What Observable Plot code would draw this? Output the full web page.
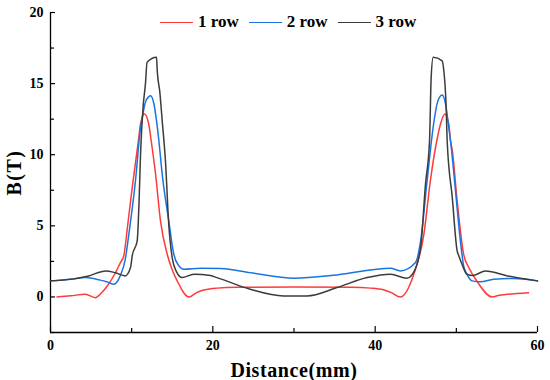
<!DOCTYPE html>
<html><head><meta charset="utf-8">
<script src="https://cdn.jsdelivr.net/npm/d3@7"></script>
<script src="https://cdn.jsdelivr.net/npm/@observablehq/plot@0.6"></script>
<style>
body{margin:0;background:#fff;}
#wrap{position:relative;width:550px;height:380px;font-family:"Liberation Serif","Times New Roman",serif;}
#legend{position:absolute;top:12px;left:160px;display:flex;align-items:center;font-weight:bold;font-size:17px;color:#000;line-height:20px;}
.item{display:flex;align-items:center;margin-right:10px;}
.sw{display:inline-block;width:33px;height:0;border-top:1.6px solid;margin-right:5px;}
svg g[aria-label="x-axis label"]{font-size:20px;letter-spacing:0.6px;}
svg g[aria-label="y-axis label"]{font-size:20px;letter-spacing:1.5px;}
</style></head>
<body>
<div id="wrap"><div id="chart"></div><div id="legend"></div></div>
<script>
const seriesNames = ["1 row", "2 row", "3 row"];
const seriesColors = ["#ff3a3a", "#1a74e0", "#3c3c3c"];

const row1X = [0.8,2.5,4.3,5.5,6.3,7.0,8.0,8.6,9.03,9.5,10.07,10.88,11.09,11.58,12.1,12.4,12.94,13.55,14.38,15.0,15.61,17.04,18.0,19.0,20.5,23,30,37,39.4,41,42,43.1,44.76,46.0,46.8,47.7,48.05,48.58,49.07,49.28,49.5,50.1,50.9,51.6,52.6,54.4,55.3,56.3,58.9];
const row1Y = [0.0,0.08,0.19,-0.05,0.3,0.77,1.7,2.4,2.9,5.0,7.7,11.2,12.16,12.87,12.16,11.0,8.66,5.35,3.0,1.9,1.13,0.0,0.3,0.5,0.62,0.68,0.7,0.68,0.62,0.5,0.3,0.0,1.6,4.4,8.17,11.3,12.16,12.87,12.16,11.0,10.3,6.76,3.0,2.0,1.05,0.0,0.12,0.19,0.3];

const row2X = [0,2.5,4.3,6.0,7.0,7.8,8.6,9.2,9.65,10.47,11.09,11.3,11.7,12.1,12.32,12.73,13.06,13.35,13.76,14.57,15.19,15.8,16.42,18.5,21,24.6,30.0,35.3,41.9,43.1,44.97,45.6,46.4,47.2,47.6,47.8,48.26,48.66,49.07,49.28,49.9,50.5,50.9,51.3,51.95,53.0,54.6,57.1,60.0];
const row2Y = [1.13,1.25,1.36,1.2,1.05,0.89,1.5,2.6,4.4,8.17,11.9,12.6,13.7,14.08,14.15,13.6,12.4,11.0,8.64,5.35,3.0,2.2,1.95,2.02,2.0,1.71,1.32,1.55,2.02,1.83,2.42,3.94,8.17,12.16,13.5,13.9,14.2,13.6,11.9,11.0,7.46,3.94,2.18,1.6,1.13,1.06,1.25,1.3,1.13];

const row3X = [0,1.85,4.7,6.8,8.0,9.2,9.86,10.07,10.68,10.9,11.09,11.4,11.7,11.9,13.06,13.15,13.47,13.76,14.17,14.57,14.99,15.5,16.22,17.65,19.7,20.5,24.6,28.7,31.6,35.3,39.0,41.9,43.9,44.6,45.6,46.2,46.7,46.9,47.15,48.26,48.46,48.75,48.87,49.5,50.1,50.3,50.7,51.3,52.0,53.6,56.3,60.0];
const row3Y = [1.13,1.2,1.48,1.83,1.7,1.48,2.07,2.9,3.94,6.5,10.0,13.3,15.0,16.5,16.85,15.9,14.4,12.4,9.5,5.1,2.77,1.8,1.36,1.6,1.5,1.36,0.54,0.07,0.07,0.66,1.36,1.6,1.32,1.6,3.47,7.93,11.0,15.44,16.85,16.6,15.9,13.3,11.0,7.0,3.24,2.9,2.3,1.6,1.5,1.83,1.48,1.13];

const xDomain = [0, 60];
const yDomain = [-2.5, 20];
const xMajor = [0, 20, 40, 60];
const xMinor = [10, 30, 50];
const yMajor = [0, 5, 10, 15, 20];
const yMinor = [-2.5, 2.5, 7.5, 12.5, 17.5];

const allX = [row1X, row2X, row3X];
const allY = [row1Y, row2Y, row3Y];
const data = [];
allX.forEach((xs, s) => xs.forEach((x, i) => data.push({series: seriesNames[s], x, y: allY[s][i]})));

const W = 550, H = 380, mL = 50, mR = 13, mT = 12, mB = 48;
const innerW = W - mL - mR, innerH = H - mT - mB;

const chart = Plot.plot({
  width: W, height: H,
  marginLeft: mL, marginRight: mR, marginTop: mT, marginBottom: mB,
  style: {fontFamily: '"Liberation Serif","Times New Roman",serif', fontWeight: "bold", fontSize: "14px", color: "#000", background: "#fff"},
  x: {domain: xDomain},
  y: {domain: yDomain},
  marks: [
    Plot.ruleX([xDomain[0]], {stroke: "#000", strokeWidth: 1.3}),
    Plot.ruleY([yDomain[0]], {stroke: "#000", strokeWidth: 1.3}),
    Plot.tickX(xMajor, {x: d => d, insetTop: innerH - 6, stroke: "#000", strokeWidth: 1.2}),
    Plot.tickX(xMinor, {x: d => d, insetTop: innerH - 4, stroke: "#000", strokeWidth: 1.2}),
    Plot.tickY(yMajor, {y: d => d, insetRight: innerW - 5, stroke: "#000", strokeWidth: 1.2}),
    Plot.tickY(yMinor, {y: d => d, insetRight: innerW - 4, stroke: "#000", strokeWidth: 1.2}),
    Plot.axisX({ticks: xMajor, tickSize: 0, tickPadding: 8, label: "Distance(mm)", labelAnchor: "center", labelArrow: "none", labelOffset: 44}),
    Plot.axisY({ticks: yMajor, tickSize: 0, tickPadding: 7, label: "B(T)", labelAnchor: "center", labelArrow: "none", labelOffset: 44}),
    ...seriesNames.map((name, s) => Plot.line(data.filter(d => d.series === name), {x: "x", y: "y", stroke: seriesColors[s], strokeWidth: 1.5, curve: "monotone-x"}))
  ]
});
document.getElementById("chart").appendChild(chart);

const legend = document.getElementById("legend");
seriesNames.forEach((name, s) => {
  const item = document.createElement("div");
  item.className = "item";
  const sw = document.createElement("span");
  sw.className = "sw";
  sw.style.borderTopColor = seriesColors[s];
  const t = document.createElement("span");
  t.textContent = name;
  item.appendChild(sw); item.appendChild(t);
  legend.appendChild(item);
});
</script>
</body></html>
